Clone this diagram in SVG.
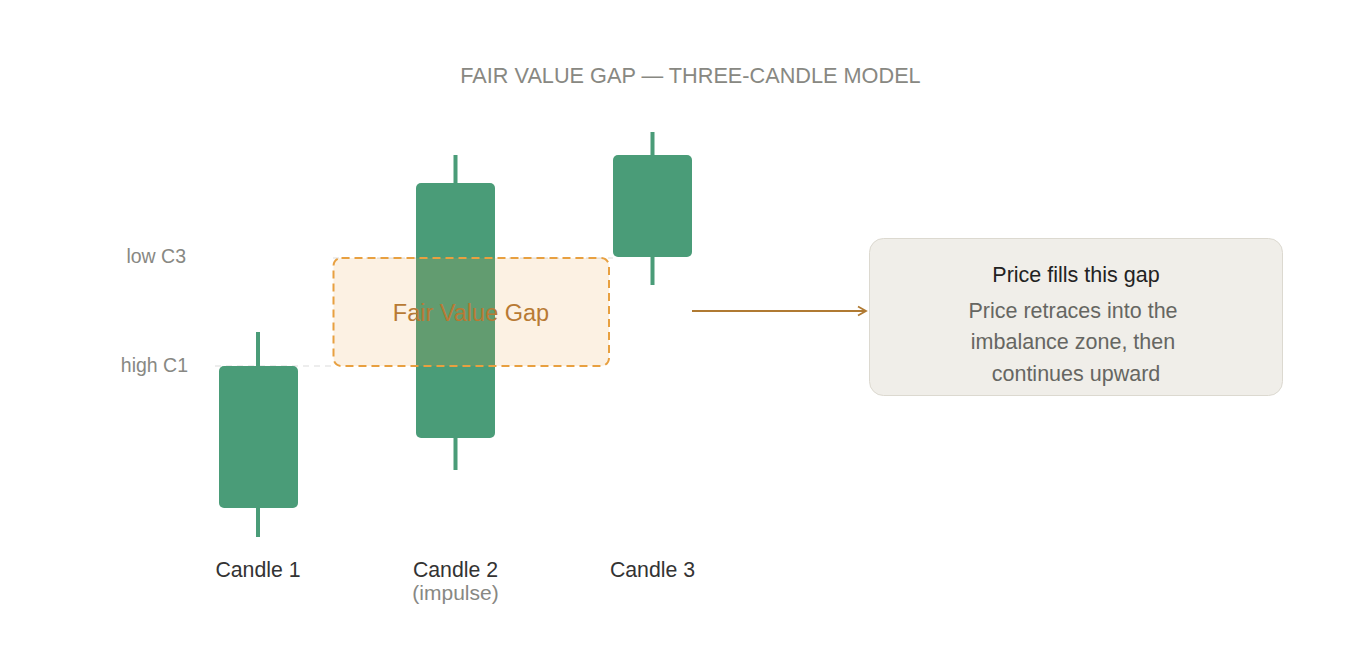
<svg xmlns="http://www.w3.org/2000/svg" width="1348" height="661" viewBox="0 0 1348 661">
<style>
.wick{stroke:#4A9C78;stroke-width:4}
.body{fill:#4A9C78}
.lvl{font-family:"Liberation Sans",Arial,sans-serif;font-size:19.5px;fill:#888883;text-anchor:end}
.cl{font-family:"Liberation Sans",Arial,sans-serif;font-size:21.3px;fill:#333333;text-anchor:middle}
.guide{stroke:#DCDCDC;stroke-width:1.2;stroke-dasharray:6 5;fill:none}
</style>
<defs>
<marker id="arr" viewBox="0 0 12 12" refX="10" refY="6" markerWidth="12" markerHeight="12" markerUnits="userSpaceOnUse" orient="auto">
<path d="M2,1.5 L10,6 L2,10.5" fill="none" stroke="#B07A32" stroke-width="1.8"/>
</marker>
</defs>
<rect width="1348" height="661" fill="#FFFFFF"/>
<text x="690.5" y="83" font-family="'Liberation Sans',Arial,sans-serif" font-size="21.7" fill="#888882" text-anchor="middle">FAIR VALUE GAP — THREE-CANDLE MODEL</text>
<g id="guides">
<line class="guide" x1="215" y1="366" x2="333" y2="366"/>
<line class="guide" x1="333" y1="258" x2="613" y2="258"/>
<text class="lvl" x="186" y="263">low C3</text>
<text class="lvl" x="188" y="372">high C1</text>
</g>
<g id="candle1">
<line class="wick" x1="258" y1="332" x2="258" y2="537"/>
<rect class="body" x="219" y="366" width="79" height="142" rx="5"/>
<text class="cl" x="258" y="577">Candle 1</text>
</g>
<g id="candle2">
<line class="wick" x1="455.5" y1="155" x2="455.5" y2="470"/>
<rect class="body" x="416" y="183" width="79" height="255" rx="5"/>
<text class="cl" x="455.5" y="577">Candle 2</text>
<text x="455.5" y="600" font-family="'Liberation Sans',Arial,sans-serif" font-size="21" fill="#888883" text-anchor="middle">(impulse)</text>
</g>
<g id="candle3">
<line class="wick" x1="652.5" y1="132" x2="652.5" y2="285"/>
<rect class="body" x="613" y="155" width="79" height="102" rx="5"/>
<text class="cl" x="652.5" y="577">Candle 3</text>
</g>
<g id="fvg">
<rect x="333.5" y="258" width="275.5" height="108" rx="8" fill="#E8A040" fill-opacity="0.15" stroke="#E8A040" stroke-width="2" stroke-dasharray="8 5"/>
<text x="471" y="320.5" font-family="'Liberation Sans',Arial,sans-serif" font-size="23.5" fill="#B87A34" text-anchor="middle">Fair Value Gap</text>
</g>
<g id="connectors">
<line x1="692" y1="311" x2="866" y2="311" stroke="#B07A32" stroke-width="2" marker-end="url(#arr)"/>
</g>
<g id="note">
<rect x="869.5" y="238.5" width="413" height="157" rx="14" fill="#F0EEE9" stroke="#DCD9D0" stroke-width="1"/>
<text x="1076" y="281.5" font-family="'Liberation Sans',Arial,sans-serif" font-size="21.5" fill="#222222" text-anchor="middle">Price fills this gap</text>
<text font-family="'Liberation Sans',Arial,sans-serif" font-size="21.5" fill="#666662" text-anchor="middle">
<tspan x="1076" y="317.5">Price retraces into the</tspan>
<tspan x="1076" y="349">imbalance zone, then</tspan>
<tspan x="1076" y="380.5">continues upward</tspan>
</text>
</g>
</svg>
